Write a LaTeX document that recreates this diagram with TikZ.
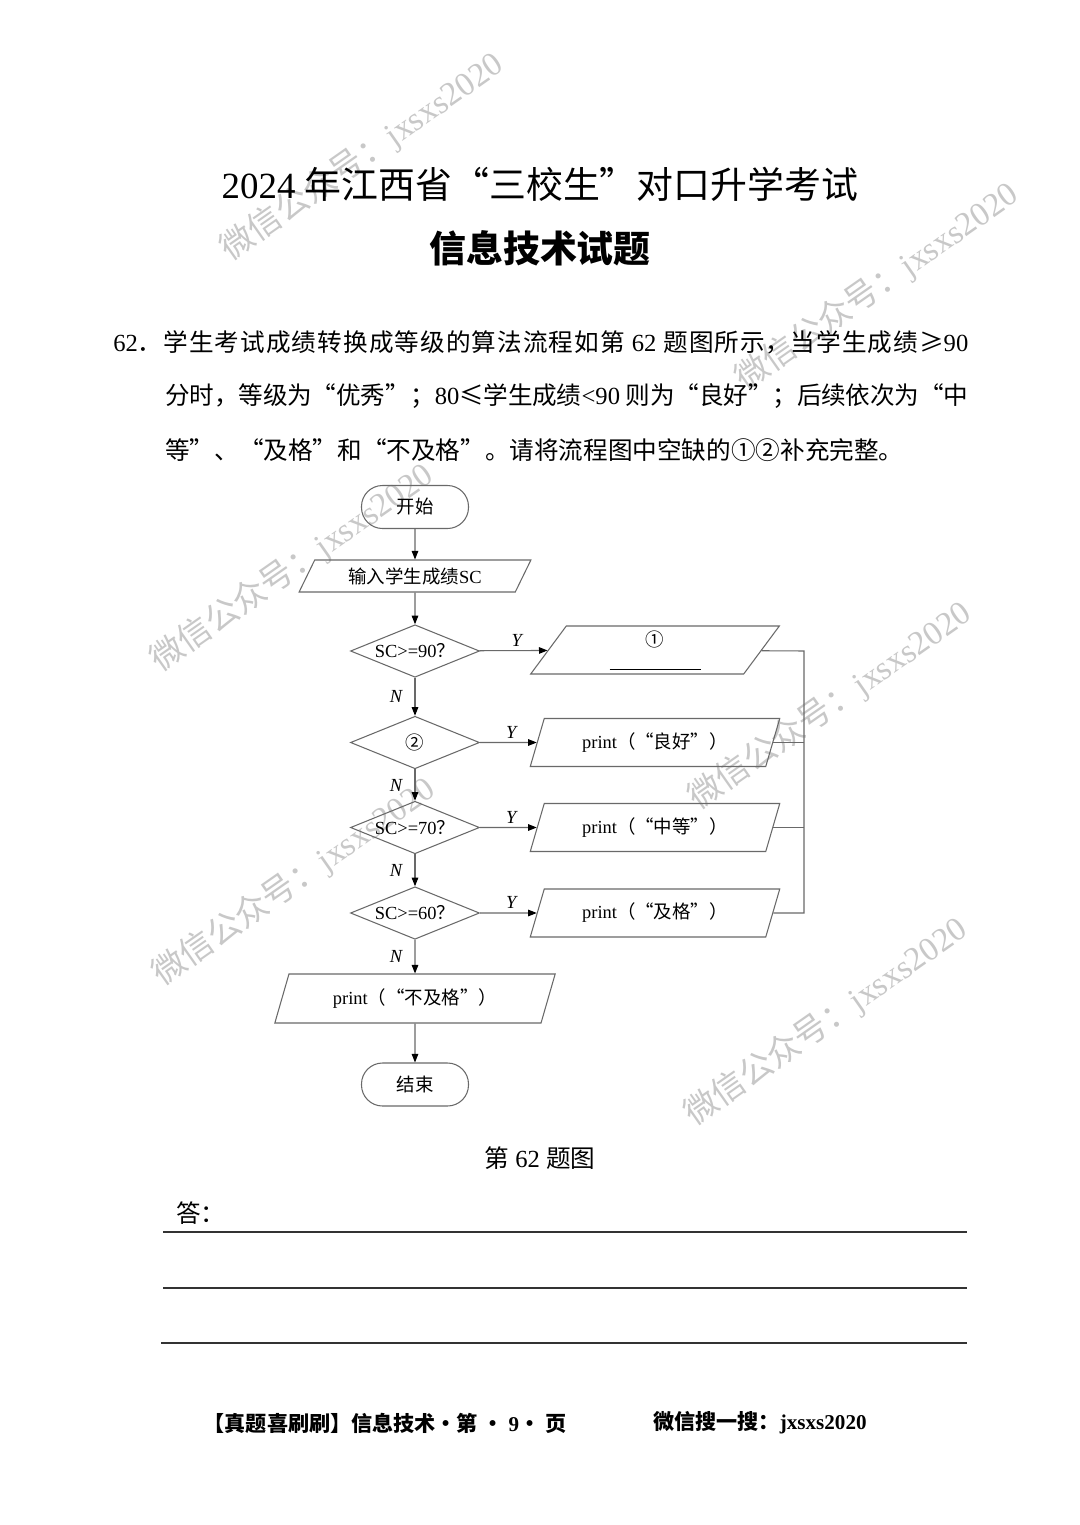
\documentclass[tikz,border=0pt]{standalone}
\usepackage{fontspec}
\setmainfont{Liberation Serif}
\newfontfamily\zh{Noto Sans CJK SC}
\usetikzlibrary{
    positioning,
    shapes.geometric,
    arrows.meta
}
\definecolor{linecolor}{RGB}{105, 105, 105}
\definecolor{markcolor}{RGB}{200, 200, 200}
\XeTeXlinebreaklocale "zh"
\XeTeXlinebreakskip=0pt plus 2pt minus 0.5pt
% fill a one-line paragraph to its full width
\newcommand{\fullline}{\hskip 0pt plus -1fil\null}

\begin{document}
\begin{tikzpicture}[
    % Start / end
    terminal/.style={
        rectangle,
        draw=linecolor,
        rounded corners=4.2mm,
        minimum width=2.14cm,
        minimum height=0.86cm,
        font=\fontsize{10.5pt}{12pt}\selectfont,
        line width=0.6pt
    },
    % Input / output box
    io/.style={
        trapezium,
        trapezium left angle=65,
        trapezium right angle=115,
        trapezium stretches=true,
        draw=linecolor,
        minimum width=#1,
        minimum height=0.96cm,
        inner sep=0pt,
        align=center,
        font=\fontsize{10.5pt}{12pt}\selectfont,
        line width=0.6pt
    },
    io/.default=5cm,
    % Decision
    decision/.style={
        diamond,
        aspect=2.45,
        draw=linecolor,
        minimum width=2.58cm,
        minimum height=1.05cm,
        inner sep=0pt,
        font=\fontsize{10.5pt}{12pt}\selectfont,
        line width=0.6pt
    },
    % Arrow style
    arrow/.style={
        draw=linecolor,
        line width=0.6pt,
        -{Triangle[length=1.7mm, width=1.3mm, color=black]}
    },
    plainline/.style={
        draw=linecolor,
        line width=0.6pt
    },
    % Y / N labels
    branch/.style={
        font=\fontsize{10.5pt}{12pt}\selectfont\itshape,
        inner sep=2pt
    },
    % Question text
    para/.style={
        font=\fontsize{14pt}{17pt}\selectfont,
        inner sep=0pt
    },
    % Answer lines
    ansline/.style={
        draw=black!80,
        line width=1pt
    },
    % Footer
    foot/.style={
        font=\fontsize{12pt}{14pt}\selectfont\bfseries
    },
    % Watermark
    watermark/.style={
        text=markcolor,
        rotate=35,
        font=\fontsize{19pt}{21pt}\selectfont
    }
]

\fill[white] (0,0) rectangle (21.6,-30.5);
\useasboundingbox (0,0) rectangle (21.6,-30.5);

% ============================================
% WATERMARKS
% ============================================

\node[watermark] (wm1) at (7.24,-3.14) {{\zh 微信公众号：}jxsxs2020};
\node[watermark] (wm2) at (17.54,-5.74) {{\zh 微信公众号：}jxsxs2020};
\node[watermark] (wm3) at (5.84,-11.36) {{\zh 微信公众号：}jxsxs2020};
\node[watermark] (wm4) at (16.6,-14.12) {{\zh 微信公众号：}jxsxs2020};
\node[watermark] (wm5) at (5.88,-17.64) {{\zh 微信公众号：}jxsxs2020};
\node[watermark] (wm6) at (16.52,-20.44) {{\zh 微信公众号：}jxsxs2020};

% ============================================
% TITLE AND QUESTION
% ============================================

\node[font=\fontsize{21pt}{24pt}\selectfont] (title) at (10.8,-3.68)
    {2024 {\zh 年江西省“三校生”对口升学考试}};
\node[font=\fontsize{21pt}{24pt}\selectfont\zh\bfseries] (subtitle) at (10.8,-4.96)
    {信息技术试题};

\node[para, text width=17.1cm, align=justify, anchor=west] (q1) at (2.26,-6.84)
    {\noindent\tolerance=9999 62{\zh ．学生考试成绩转换成等级的算法流程如第} 62 {\zh 题图所示，当学生成绩≥}90\fullline};
\node[para, text width=16.06cm, align=justify, anchor=west] (q2) at (3.30,-7.92)
    {\noindent\tolerance=9999 {\zh 分时，等级为“优秀”；}80{\zh ≤学生成绩}<90 {\zh 则为“良好”；后续依次为“中}\fullline};
\node[para, anchor=west] (q3) at (3.30,-9.0)
    {\zh 等”、“及格”和“不及格”。请将流程图中空缺的①②补充完整。};

% ============================================
% FLOWCHART
% ============================================

\node[terminal] (start) at (8.3,-10.14) {\zh 开始};
\node[io=4.64cm, trapezium left angle=59, trapezium right angle=121,
      minimum height=0.64cm] (inp) at (8.3,-11.52) {{\zh 输入学生成绩}SC};

\node[decision] (d90) at (8.3,-13.02) {SC>=90{\zh ？}};
\node[io] (p90) at (13.1,-13.0) {{\zh ①}\\[0.05cm]\rule{1.82cm}{0.5pt}};

\node[decision] (d80) at (8.3,-14.85) {\zh ②};
\node[io] (p80) at (13.1,-14.85) {print{\zh （“良好”）}};

\node[decision] (d70) at (8.3,-16.55) {SC>=70{\zh ？}};
\node[io] (p70) at (13.1,-16.55) {print{\zh （“中等”）}};

\node[decision] (d60) at (8.3,-18.26) {SC>=60{\zh ？}};
\node[io] (p60) at (13.1,-18.26) {print{\zh （“及格”）}};

\node[io=5.61cm, minimum height=0.98cm] (pfail) at (8.3,-19.97) {print{\zh （“不及格”）}};
\node[terminal] (stop) at (8.3,-21.69) {\zh 结束};

% Main flow
\draw[arrow] (start) -- (inp);
\draw[arrow] (inp) -- (d90);
\draw[arrow] (d90) -- node[branch, left=5pt] {N} (d80);
\draw[arrow] (d80) -- node[branch, left=5pt] {N} (d70);
\draw[arrow] (d70) -- node[branch, left=5pt] {N} (d60);
\draw[arrow] (d60) -- node[branch, left=5pt] {N} (pfail);
\draw[arrow] (pfail) -- (stop);

% Yes branches
\foreach \lvl in {90, 80, 70, 60} {
    \draw[arrow] (d\lvl) -- node[branch, above, pos=0.55] {Y} (p\lvl);
}

% Merge line on the right
\coordinate (bus90) at (16.08,-13.02);
\coordinate (bus60) at (16.08,-18.26);
\draw[plainline] (p90) -- (bus90) -- (bus60) -- (p60);
\draw[plainline] (p80) -- (p80 -| bus90);
\draw[plainline] (p70) -- (p70 -| bus90);

% ============================================
% CAPTION, ANSWER AND FOOTER
% ============================================

\node[font=\fontsize{14pt}{16pt}\selectfont] (caption) at (10.8,-23.16)
    {{\zh 第} 62 {\zh 题图}};
\node[para, anchor=west] (ans) at (3.52,-24.26) {\zh 答：};

\draw[ansline] (3.26,-24.64) -- (19.34,-24.64);
\draw[ansline] (3.26,-25.76) -- (19.34,-25.76);
\draw[ansline] (3.22,-26.86) -- (19.34,-26.86);

\node[foot] (footl) at (7.7,-28.46)
    {{\zh 【真题喜刷刷】信息技术·第 · }9{\zh  · 页}};
\node[foot] (footr) at (15.2,-28.46)
    {{\zh 微信搜一搜：}jxsxs2020};

\end{tikzpicture}
\end{document}
